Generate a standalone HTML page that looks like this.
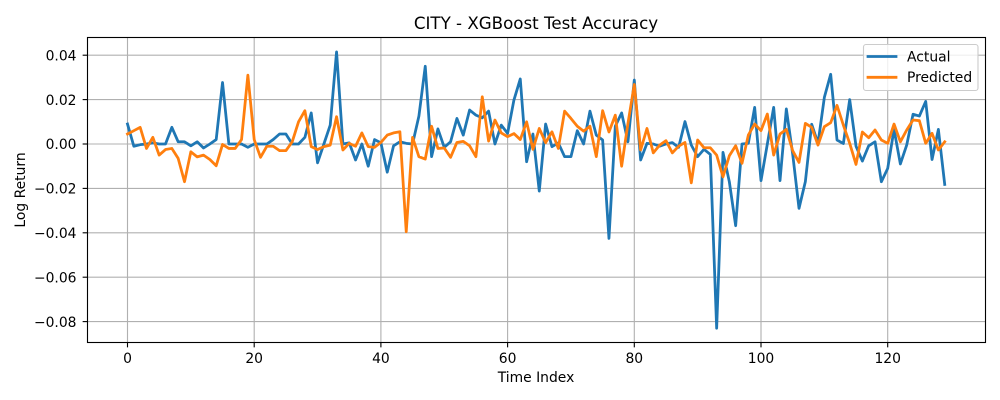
<!DOCTYPE html>
<html>
<head>
<meta charset="utf-8">
<title>CITY - XGBoost Test Accuracy</title>
<style>
html,body{margin:0;padding:0;background:#fff;width:1000px;height:400px;overflow:hidden}
svg{display:block}
text{font-family:"DejaVu Sans","Liberation Sans",sans-serif;fill:#000}
</style>
</head>
<body>
<svg id="chart" width="1000" height="400" viewBox="0 0 1000 400" xmlns="http://www.w3.org/2000/svg">
  <rect x="0" y="0" width="1000" height="400" fill="#fff"/>
  <g id="grid"></g>
  <g id="series"></g>
  <g id="ticks"></g>
  <rect x="87.5" y="37.5" width="898" height="305" fill="none" stroke="#000" stroke-width="1.11"/>
  <text x="536" y="29" font-size="16.67" text-anchor="middle">CITY - XGBoost Test Accuracy</text>
  <text x="536" y="382" font-size="13.89" text-anchor="middle">Time Index</text>
  <text x="0" y="0" font-size="13.89" text-anchor="middle" transform="translate(25,190) rotate(-90)">Log Return</text>
  <g>
    <rect x="863.5" y="44.5" width="114.5" height="46" rx="2.5" ry="2.5" fill="#fff" fill-opacity="0.8" stroke="#ccc" stroke-width="1.11"/>
    <g>
      <line x1="868" y1="56.5" x2="896" y2="56.5" stroke="#1f77b4" stroke-width="2.78" stroke-linecap="square"/>
      <text x="907" y="61.5" font-size="13.89">Actual</text>
    </g>
    <g>
      <line x1="868" y1="77.3" x2="896" y2="77.3" stroke="#ff7f0e" stroke-width="2.78" stroke-linecap="square"/>
      <text x="907" y="82.2" font-size="13.89">Predicted</text>
    </g>
  </g>
</svg>
<script>
var actual = [
  0.009,-0.001,-0.0003,0,0.0005,0,0,0.0075,0.001,0.001,
  -0.0008,0.001,-0.0018,0,0.002,0.0277,0,0,0,-0.0015,
  0,0,0,0.002,0.0045,0.0045,0,0,0.003,0.014,
  -0.0085,0,0.0085,0.0415,0,0.0005,-0.0072,0,-0.01,0.002,
  0.0005,-0.0127,-0.0008,0.001,0.0003,0,0.0126,0.035,-0.0057,0.0068,
  -0.0015,0.001,0.0115,0.004,0.0153,0.013,0.0118,0.0148,0,0.0085,
  0.0048,0.0198,0.0293,-0.008,0.0045,-0.0212,0.009,-0.0012,0.0005,-0.0057,
  -0.0057,0.006,0,0.0148,0.004,0.0018,-0.0425,0.008,0.014,0.001,
  0.0288,-0.0072,0.0003,0,-0.001,0,0.0006,-0.0015,0.0101,-0.0005,
  -0.0057,-0.0024,-0.0047,-0.083,-0.0038,-0.017,-0.0368,0,0.0003,0.0165,
  -0.0165,0,0.0165,-0.0165,0.0158,-0.0045,-0.029,-0.017,0.0089,0.0003,
  0.021,0.0314,0.0018,0.0002,0.02,-0.001,-0.0077,-0.0008,0.001,-0.017,
  -0.011,0.0066,-0.009,-0.0005,0.0134,0.0126,0.0192,-0.007,0.0066,-0.0182
];
var predicted = [
  0.0045,0.006,0.0075,-0.002,0.003,-0.005,-0.0025,-0.002,-0.0065,-0.017,
  -0.0035,-0.0058,-0.005,-0.007,-0.0098,-0.0002,-0.002,-0.002,0.002,0.031,
  0.002,-0.006,-0.001,-0.001,-0.003,-0.003,0.001,0.01,0.015,-0.0012,
  -0.0025,-0.0012,-0.0005,0.0123,-0.0027,0.0003,-0.001,0.005,-0.0012,-0.0015,
  0.0007,0.004,0.005,0.0055,-0.0395,0.003,-0.0057,-0.0068,0.008,-0.002,
  -0.0018,-0.006,0.0007,0.0012,-0.0008,-0.0057,0.0213,0.0013,0.0108,0.005,
  0.0033,0.0047,0.002,0.01,-0.0024,0.007,0.0006,0.0055,-0.002,0.0148,
  0.0115,0.008,0.0058,0.008,-0.0057,0.015,0.0054,0.013,-0.01,0.0093,
  0.0268,-0.0027,0.007,-0.004,-0.0005,0.0015,-0.004,-0.001,0.0007,-0.0175,
  0.0018,-0.0017,-0.0017,-0.005,-0.0148,-0.0053,-0.0008,-0.0087,0.004,0.009,
  0.006,0.0135,-0.005,0.0045,0.0066,-0.003,-0.0083,0.0093,0.0075,-0.0005,
  0.0078,0.0096,0.0174,0.0085,0.0003,-0.0092,0.0054,0.0028,0.0063,0.0018,
  0.0003,0.009,0.001,0.0063,0.0108,0.0105,0.0003,0.0048,-0.0027,0.001
];
var xTicks = [0,20,40,60,80,100,120];
var yTicks = [0.04,0.02,0,-0.02,-0.04,-0.06,-0.08];

var NS = 'http://www.w3.org/2000/svg';
var plotLeft = 87.5, plotRight = 985.5, plotTop = 37.5, plotBottom = 342.5;
function xScale(v){ return 127.5 + 6.335 * v; }
function yScale(v){ return 144 - 2220 * v; }
function make(tag, attrs, parent){
  var el = document.createElementNS(NS, tag);
  for (var k in attrs) el.setAttribute(k, attrs[k]);
  parent.appendChild(el);
  return el;
}
function yLabel(v){
  return v.toFixed(2).replace('-', '\u2212');
}
var gridG = document.getElementById('grid');
var ticksG = document.getElementById('ticks');
var seriesG = document.getElementById('series');

xTicks.forEach(function(v){
  var x = xScale(v);
  var gl = make('line', {x1:x, x2:x, y1:plotTop, y2:plotBottom, stroke:'#b0b0b0', 'stroke-width':1.11}, gridG);
  
  
  var tk = make('line', {x1:x, x2:x, y1:plotBottom, y2:plotBottom + 4.86, stroke:'#000', 'stroke-width':1.11}, ticksG);
  
  
  var tx = make('text', {x:x, y:362.8, 'font-size':13.89, 'text-anchor':'middle'}, ticksG);
  
  
  tx.textContent = String(v);
});
yTicks.forEach(function(v){
  var y = yScale(v);
  var gl = make('line', {x1:plotLeft, x2:plotRight, y1:y, y2:y, stroke:'#b0b0b0', 'stroke-width':1.11}, gridG);
  
  
  var tk = make('line', {x1:plotLeft - 4.86, x2:plotLeft, y1:y, y2:y, stroke:'#000', 'stroke-width':1.11}, ticksG);
  
  
  var tx = make('text', {x:76.5, y:y + 5.2, 'font-size':13.89, 'text-anchor':'end'}, ticksG);
  
  
  tx.textContent = yLabel(v);
});
function linePoints(values){
  return values.map(function(v, i){
    return xScale(i).toFixed(2) + ',' + yScale(v).toFixed(2);
  }).join(' ');
}
var actualLine = make('polyline', {points:linePoints(actual), fill:'none', stroke:'#1f77b4', 'stroke-width':2.78, 'stroke-linejoin':'round', 'stroke-linecap':'square'}, seriesG);


var predictedLine = make('polyline', {points:linePoints(predicted), fill:'none', stroke:'#ff7f0e', 'stroke-width':2.78, 'stroke-linejoin':'round', 'stroke-linecap':'square'}, seriesG);


</script>
</body>
</html>
